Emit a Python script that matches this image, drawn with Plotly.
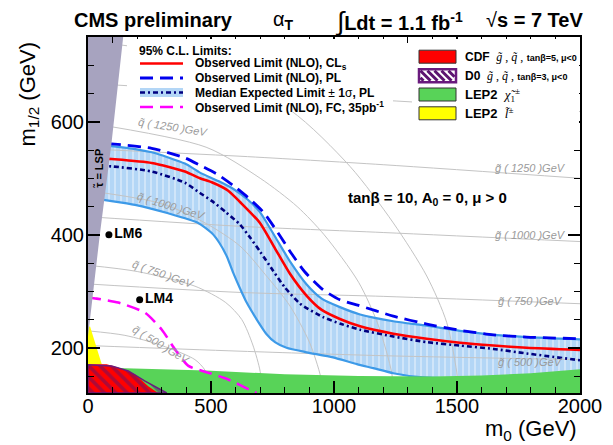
import plotly.graph_objects as go

# ---------------- data (m0, m1/2 in GeV) ----------------
cls_m0 = [0, 96, 259, 394, 455, 503, 570, 618, 699, 760, 821, 889, 950, 1024, 1106, 1241, 1377, 1512, 1648, 1783, 2000]
cls_m12 = [537, 534, 527, 512, 500, 493, 478, 458, 421, 376, 331, 292, 267, 251, 238, 225, 216, 209, 204, 200, 196]

pl_m0 = [0, 96, 259, 394, 455, 530, 591, 650, 713, 770, 830, 880, 955, 1024, 1100, 1241, 1377, 1512, 1646, 1783, 2000]
pl_m12 = [563, 561, 553, 536, 523, 506, 487, 466, 440, 405, 365, 335, 303, 285, 275, 256, 242, 231, 223, 219, 216]

exp_m0 = [0, 96, 259, 394, 455, 503, 560, 618, 659, 700, 753, 800, 862, 957, 1030, 1106, 1241, 1377, 1512, 1648, 1783, 2000]
exp_m12 = [522, 521, 512, 492, 474, 460, 440, 418, 395, 370, 336, 307, 278, 254, 242, 232, 220, 210, 204, 198, 190, 178]

up_m0 = [0, 96, 259, 394, 455, 530, 591, 650, 699, 760, 821, 889, 950, 1024, 1106, 1241, 1377, 1512, 1648, 1783, 2000]
up_m12 = [560, 557, 546, 526, 510, 495, 481, 462, 440, 397, 353, 312, 287, 272, 259, 247, 239, 230, 223, 219, 215]

lo_m0 = [0, 76, 191, 326, 448, 503, 535, 564, 590, 618, 645, 686, 726, 760, 807, 889, 996, 1093, 1160, 1241, 1350, 1600, 2000]
lo_m12 = [466, 461, 453, 438, 421, 403, 385, 362, 333, 305, 280, 250, 224, 210, 200, 192, 183, 171, 164, 155, 148, 145, 145]

fc_m0 = [0, 35, 123, 232, 300, 354, 408, 489, 570, 665, 685]
fc_m12 = [289, 287, 280, 262, 232, 197, 168, 156, 144, 124, 120]

lep_chi_m0 = [0, 0, 150, 480, 800, 1100, 1400, 1600, 1800, 2000, 2000]
lep_chi_m12 = [120, 166, 164, 160, 153, 150, 149, 151, 155, 162, 120]

lep_sl_m0 = [0, 0, 8, 56]
lep_sl_m12 = [171, 236, 238, 171]

cdf_m0 = [0, 0, 76, 123, 191, 245, 285]
cdf_m12 = [120, 171, 171, 165, 153, 132, 120]

d0_m0 = [0, 0, 96, 164, 232, 320, 0]
d0_m12 = [120, 170, 168, 159, 141, 120, 120]

stau_m0 = [0, 0, 48, 95, 143, 0]
stau_m12 = [120, 220, 400, 560, 750, 750]

lm_names = ["LM6", "LM4"]
lm_m0 = [85, 210]
lm_m12 = [400, 285]

# iso-mass guide lines
sq500_m0 = [0, 150, 300, 435, 476, 490]
sq500_m12 = [230, 222, 204, 179, 160, 140]
sq750_m0 = [0, 200, 435, 560, 625, 670, 700, 705]
sq750_m12 = [346, 335, 309, 280, 250, 205, 158, 130]
sq1000_m0 = [0, 300, 480, 618, 720, 821, 900, 945, 950]
sq1000_m12 = [478, 455, 420, 380, 330, 274, 210, 150, 130]
sq1250_m0 = [0, 480, 700, 850, 960, 1100, 1180, 1235, 1240]
sq1250_m12 = [598, 555, 500, 450, 400, 316, 240, 155, 130]
sq1500_m0 = [0, 400, 821, 1065, 1241, 1377, 1458, 1499, 1505]
sq1500_m12 = [742, 715, 621, 521, 421, 327, 245, 157, 130]

gl_m0 = [0, 618, 1200, 2000]
gl500_m12 = [204, 194, 186, 179]
gl750_m12 = [313, 298, 291, 278]
gl1000_m12 = [432, 415, 404, 388]
gl1250_m12 = [552, 539, 524, 500]
gl1500_m12 = [668, 652, 638, 618]

gl_labels = ["1250", "1000", "750", "500"]
gl_label_m12 = [518, 400, 282, 174]
sq_labels = ["1250", "1000", "750", "500"]
sq_label_m0 = [346, 338, 305, 300]
sq_label_m12 = [590, 451, 330, 205]
sq_label_angle = [9, 17, 19, 31]

# ---------------- figure ----------------
FONT = "Liberation Sans"
GRAY = "#c4c4c4"
fig = go.Figure()

# expected +-1 sigma band
fig.add_trace(go.Scatter(
    x=up_m0 + lo_m0[::-1], y=up_m12 + lo_m12[::-1], mode="none", fill="toself",
    fillcolor="#b8d9f6",
    fillpattern=dict(shape="|", bgcolor="#b3d6f6", fgcolor="#ffffff", size=6, solidity=0.25),
    hoverinfo="skip", showlegend=False))

# iso mass lines
for xs, ys in [(sq500_m0, sq500_m12), (sq750_m0, sq750_m12), (sq1000_m0, sq1000_m12),
               (sq1250_m0, sq1250_m12), (sq1500_m0, sq1500_m12),
               (gl_m0, gl500_m12), (gl_m0, gl750_m12), (gl_m0, gl1000_m12),
               (gl_m0, gl1250_m12), (gl_m0, gl1500_m12)]:
    fig.add_trace(go.Scatter(x=xs, y=ys, mode="lines", line=dict(color=GRAY, width=1, shape="spline", smoothing=0.8),
                             hoverinfo="skip", showlegend=False))

# band edges
for xs, ys in [(up_m0, up_m12), (lo_m0, lo_m12)]:
    fig.add_trace(go.Scatter(x=xs, y=ys, mode="lines", line=dict(color="#3d9ae8", width=2.2, shape="spline", smoothing=0.6),
                             hoverinfo="skip", showlegend=False))

# LEP2 chargino
fig.add_trace(go.Scatter(x=lep_chi_m0, y=lep_chi_m12, mode="none", fill="toself", fillcolor="#58d358",
                         hoverinfo="skip", showlegend=False))

# limit curves
fig.add_trace(go.Scatter(x=exp_m0, y=exp_m12, mode="lines",
                         line=dict(color="#000080", width=2.6, dash="5px,3px,2px,3px", shape="spline", smoothing=0.6),
                         showlegend=False))
fig.add_trace(go.Scatter(x=cls_m0, y=cls_m12, mode="lines",
                         line=dict(color="#ff0000", width=2.6, shape="spline", smoothing=0.6), showlegend=False))
fig.add_trace(go.Scatter(x=pl_m0, y=pl_m12, mode="lines",
                         line=dict(color="#0000ee", width=2.8, dash="13px,7px", shape="spline", smoothing=0.6),
                         showlegend=False))
fig.add_trace(go.Scatter(x=fc_m0, y=fc_m12, mode="lines",
                         line=dict(color="#ff00ff", width=2.6, dash="13px,7px", shape="spline", smoothing=0.6),
                         showlegend=False))

# excluded regions
fig.add_trace(go.Scatter(x=lep_sl_m0, y=lep_sl_m12, mode="none", fill="toself", fillcolor="#ffff00",
                         hoverinfo="skip", showlegend=False))
fig.add_trace(go.Scatter(x=cdf_m0, y=cdf_m12, mode="none", fill="toself", fillcolor="#ff0000",
                         hoverinfo="skip", showlegend=False))
fig.add_trace(go.Scatter(x=d0_m0, y=d0_m12, mode="lines", fill="toself", fillcolor="rgba(0,0,0,0)",
                         fillpattern=dict(shape="\\", bgcolor="rgba(0,0,0,0)", fgcolor="#5c1470", size=8, solidity=0.45),
                         line=dict(color="#6a1b7e", width=1.5), hoverinfo="skip", showlegend=False))
fig.add_trace(go.Scatter(x=stau_m0, y=stau_m12, mode="none", fill="toself", fillcolor="#a7a3bf",
                         hoverinfo="skip", showlegend=False))

# benchmark points
fig.add_trace(go.Scatter(x=lm_m0, y=lm_m12, mode="markers+text", text=["<b>%s</b>" % n for n in lm_names],
                         textposition="middle right", textfont=dict(family=FONT, size=14, color="black"),
                         marker=dict(color="black", size=7), showlegend=False))

# ---------------- layout helpers (pixel -> paper) ----------------
L, R, T, B = 88, 580, 37, 393


def PX(px):
    return (px - L) / (R - L)


def PY(py):
    return (B - py) / (B - T)


shapes = []
ann = []


def text(px, py, s, size=12, xanchor="left", color="black", angle=0, yanchor="middle", family=FONT):
    ann.append(dict(x=PX(px), y=PY(py), xref="paper", yref="paper", text=s, showarrow=False,
                    xanchor=xanchor, yanchor=yanchor, textangle=angle,
                    font=dict(family=family, size=size, color=color)))


def line(px0, px1, py, color, width, dash="solid"):
    shapes.append(dict(type="line", xref="paper", yref="paper", x0=PX(px0), x1=PX(px1), y0=PY(py), y1=PY(py),
                       line=dict(color=color, width=width, dash=dash), layer="above"))


def rect(px0, px1, py0, py1, fill, lc="#333333", lw=1):
    shapes.append(dict(type="rect", xref="paper", yref="paper", x0=PX(px0), x1=PX(px1), y0=PY(py1), y1=PY(py0),
                       fillcolor=fill, line=dict(color=lc, width=lw), layer="above"))


# legend 1
rect(127, 393, 39, 112, "white", lc="white", lw=0)
text(137, 51, "<b>95% C.L. Limits:</b>", 12)
line(140, 183, 63.5, "#ff0000", 2.6)
line(140, 183, 78, "#0000ee", 2.8, "13px,7px")
rect(140, 183, 88, 97, "#b3d6f6", lc="#b3d6f6", lw=0)
line(140, 183, 92.5, "#000080", 2.6, "5px,3px,2px,3px")
line(140, 183, 107, "#ff00ff", 2.6, "13px,7px")
text(193, 63.5, "<b>Observed Limit (NLO), CL<sub>s</sub></b>", 12)
text(193, 78, "<b>Observed Limit (NLO), PL</b>", 12)
text(193, 92.5, "<b>Median Expected Limit</b> ± <b>1</b>σ<b>, PL</b>", 12)
text(193, 107, "<b>Observed Limit (NLO), FC, 35pb<sup>-1</sup></b>", 12)

# legend 2
rect(412, 579, 39, 124, "white", lc="white", lw=0)
rows = [56.7, 75.8, 94.5, 113.3]
rect(419, 456, rows[0] - 6.5, rows[0] + 6.5, "#ff0000")
rect(419, 456, rows[1] - 6.5, rows[1] + 6.5, "white", lc="#6a1b7e", lw=2.5)
# D0 stripes inside box
bx0, bx1, by0, by1 = 420.5, 454.5, rows[1] - 5, rows[1] + 5
path = ""
h = by1 - by0
for k in range(-2, 7):
    sx = bx0 + k * 7.0
    xa, ya, xb, yb = sx, by0, sx + h, by1
    if xa < bx0:
        ya = by0 + (bx0 - xa); xa = bx0
    if xb > bx1:
        yb = by1 - (xb - bx1); xb = bx1
    if xb > xa and yb > ya:
        path += "M%.4f,%.4f L%.4f,%.4f " % (PX(xa), PY(ya), PX(xb), PY(yb))
shapes.append(dict(type="path", xref="paper", yref="paper", path=path,
                   line=dict(color="#5c1470", width=3), layer="above"))
rect(419, 456, rows[2] - 6.5, rows[2] + 6.5, "#58d358")
rect(419, 456, rows[3] - 6.5, rows[3] + 6.5, "#ffff00")
SER = "font-family:Liberation Serif"
text(463, rows[0], "<b>CDF</b>  <span style='%s'><i>g̃</i> , <i>q̃</i> ,</span> <b><span style='font-size:9px'>tanβ=5, μ&lt;0</span></b>" % SER, 12)
text(463, rows[1], "<b>D0</b>  <span style='%s'><i>g̃</i> , <i>q̃</i> ,</span> <b><span style='font-size:9px'>tanβ=3, μ&lt;0</span></b>" % SER, 12)
text(463, rows[2], "<b>LEP2</b>  <span style='%s'><i>χ̃</i><sub>1</sub><sup>±</sup></span>" % SER, 13)
text(463, rows[3], "<b>LEP2</b>  <span style='%s'><i>l̃</i><sup>±</sup></span>" % SER, 13)

# title
text(72, 20, "<b>CMS preliminary</b>", 20)
text(271, 21, "α<sub><b>T</b></sub>", 20)
text(333, 21, "<span style='font-size:26px'>∫</span><b>Ldt = 1.1 fb<sup>-1</sup></b>", 20)
text(484, 20, "√<b>s = 7 TeV</b>", 20)

# axis titles
text(579, 430, "m<sub>0</sub> (GeV)", 22, xanchor="right")
ann.append(dict(x=PX(29), y=PY(40), xref="paper", yref="paper", text="m<sub>1/2</sub> (GeV)", showarrow=False,
                xanchor="center", yanchor="top", textangle=-90, font=dict(family=FONT, size=22, color="black")))

# in-plot texts (data coordinates)
def dtext(x, y, s, size, color="black", angle=0, italic=False):
    ann.append(dict(x=x, y=y, xref="x", yref="y", text=("<i>%s</i>" % s) if italic else s, showarrow=False,
                    xanchor="center", yanchor="middle", textangle=angle,
                    font=dict(family=FONT, size=size, color=color)))


dtext(1382, 464, "<b>tanβ = 10, A<sub>0</sub> = 0, μ &gt; 0</b>", 15)
dtext(47, 518, "<b>τ̃ = LSP</b>", 11, angle=-90)
for lab, yv in zip(gl_labels, gl_label_m12):
    dtext(1800, yv, "g̃ ( %s )GeV" % lab, 11, color="#9a9a9a", italic=True)
for lab, xv, yv, ang in zip(sq_labels, sq_label_m0, sq_label_m12, sq_label_angle):
    dtext(xv, yv, "q̃ ( %s )GeV" % lab, 11, color="#9a9a9a", angle=ang, italic=True)

axis_common = dict(showline=True, linecolor="black", linewidth=2, mirror="allticks", ticks="inside",
                   ticklen=12, tickwidth=1.5, tickcolor="black", showgrid=False, zeroline=False,
                   tickfont=dict(family=FONT, size=20, color="black"), automargin=False)

fig.update_layout(
    width=613, height=445, margin=dict(l=L, r=613 - R, t=T, b=445 - B),
    paper_bgcolor="white", plot_bgcolor="white", showlegend=False,
    xaxis=dict(range=[0, 2000], tickvals=[0, 500, 1000, 1500, 2000], ticklabelstandoff=-6,
               minor=dict(dtick=100, ticklen=6, tickwidth=1, ticks="inside", tickcolor="black"), **axis_common),
    yaxis=dict(range=[120, 750], tickvals=[200, 400, 600], ticklabelstandoff=-2,
               minor=dict(dtick=50, ticklen=6, tickwidth=1, ticks="inside", tickcolor="black"), **axis_common),
    shapes=shapes, annotations=ann,
)

fig.write_html("out.html", config={"displayModeBar": False},
               post_script="document.body.style.margin='0px';document.body.style.overflow='hidden';")
